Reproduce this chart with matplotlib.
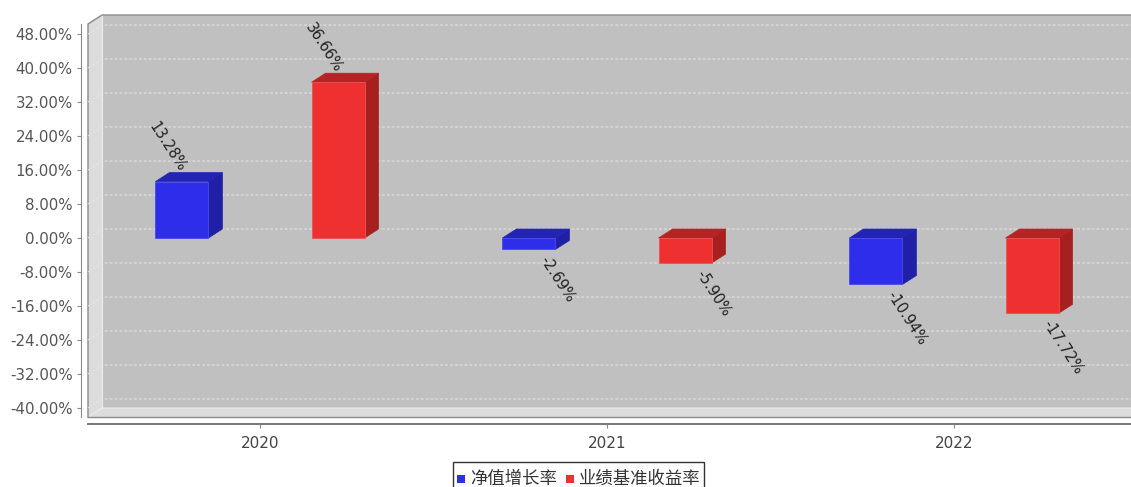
import matplotlib
matplotlib.use("Agg")
import matplotlib.pyplot as plt
from matplotlib.patches import Polygon, Rectangle
from matplotlib.ticker import FuncFormatter

# ---- data ----
categories = ["2020", "2021", "2022"]
series_names = ["净值增长率", "业绩基准收益率"]
nav_growth = [13.28, -2.69, -10.94]
benchmark = [36.66, -5.90, -17.72]
y_ticks = [-40, -32, -24, -16, -8, 0, 8, 16, 24, 32, 40, 48]

plt.rcParams['font.family'] = ['DejaVu Sans', 'Noto Sans CJK SC']

W, H = 1131, 487
fig = plt.figure(figsize=(W / 100, H / 100), dpi=100)
fig.patch.set_facecolor('white')

# front plane of the 3D plot area (pixel geometry -> figure fractions)
left_px, right_px, top_px, bot_px = 88, 1131, 24, 417
ax = fig.add_axes([left_px / W, (H - bot_px) / H,
                   (right_px - left_px) / W, (bot_px - top_px) / H])
sx, sy = 347.0, 4.25          # px per category / per percent
zero_px, cat0_px = 238.0, 260.0
xmin = (left_px - cat0_px) / sx
xmax = (right_px - cat0_px) / sx
ymin = (zero_px - bot_px) / sy
ymax = (zero_px - top_px) / sy
ax.set_xlim(xmin, xmax)
ax.set_ylim(ymin, ymax)
ax.set_facecolor('none')

dx, dy = 14 / sx, 9 / sy      # depth offset in data units
xr = xmax + 0.2               # walls extend past the right edge

wall_c = '#c0c0c0'
side_c = '#dcdcdc'
# back wall
ax.add_patch(Polygon([(xmin + dx, ymin + dy), (xr, ymin + dy), (xr, ymax + dy),
                      (xmin + dx, ymax + dy)], closed=True, facecolor=wall_c,
                     edgecolor='none', zorder=0, clip_on=False))
# left wall
ax.add_patch(Polygon([(xmin, ymin), (xmin + dx, ymin + dy), (xmin + dx, ymax + dy),
                      (xmin, ymax)], closed=True, facecolor=side_c,
                     edgecolor='none', zorder=0, clip_on=False))
# floor
ax.add_patch(Polygon([(xmin, ymin), (xr, ymin), (xr, ymin + dy), (xmin + dx, ymin + dy)],
                     closed=True, facecolor=side_c, edgecolor='none', zorder=0,
                     clip_on=False))
# inner edges (light)
ax.plot([xmin + dx, xmin + dx], [ymin + dy, ymax + dy], color='#ececec', lw=0.8,
        zorder=1, clip_on=False)
ax.plot([xmin, xmin + dx, xr], [ymin, ymin + dy, ymin + dy], color='#ececec', lw=0.8,
        zorder=1, clip_on=False)
# outer outline
ax.plot([xmin, xmin, xmin + dx, xr], [ymin, ymax, ymax + dy, ymax + dy],
        color='#8a8a8a', lw=1.0, zorder=1, clip_on=False)
ax.plot([xmin, xr], [ymin, ymin], color='#8a8a8a', lw=1.0, zorder=1, clip_on=False)

# gridlines on left wall + back wall
for v in y_ticks:
    ax.plot([xmin, xmin + dx, xr], [v, v + dy, v + dy], color='#e6e6e6', lw=0.7,
            ls=(0, (3, 2)), zorder=1, clip_on=False)

# bars
offsets = [-0.225, 0.225]
bw = 53 / sx
colors = [
    dict(front='#2e2eea', top='#2424b4', side='#2020a6', edge='#4848f0'),
    dict(front='#ee3030', top='#b42424', side='#a62020', edge='#f05050'),
]
for s, vals in enumerate([nav_growth, benchmark]):
    c = colors[s]
    for i, v in enumerate(vals):
        x0 = i + offsets[s] - bw / 2
        x1 = x0 + bw
        t = max(v, 0)
        # side face
        ax.add_patch(Polygon([(x1, 0), (x1, v), (x1 + dx, v + dy), (x1 + dx, dy)],
                             closed=True, facecolor=c['side'], edgecolor=c['side'],
                             lw=0.5, zorder=3))
        # top face
        ax.add_patch(Polygon([(x0, t), (x1, t), (x1 + dx, t + dy), (x0 + dx, t + dy)],
                             closed=True, facecolor=c['top'], edgecolor=c['top'],
                             lw=0.5, zorder=3))
        # front face
        ax.add_patch(Rectangle((x0, min(0, v)), bw, abs(v), facecolor=c['front'],
                               edgecolor=c['edge'], lw=0.6, zorder=4))
        # value label
        xc = i + offsets[s]
        if v >= 0:
            ax.annotate(f"{v:.2f}%", xy=(xc, v), xytext=(1, 11),
                        textcoords='offset pixels', rotation=-57,
                        rotation_mode='anchor', ha='right', va='center',
                        fontsize=10.5, color='#222222', zorder=6)
        else:
            ax.annotate(f"{v:.2f}%", xy=(xc, v), xytext=(14, -8),
                        textcoords='offset pixels', rotation=-57,
                        rotation_mode='anchor', ha='left', va='center',
                        fontsize=10.5, color='#222222', zorder=6)

# axes / ticks
for sp in ['top', 'right']:
    ax.spines[sp].set_visible(False)
ax.spines['left'].set_position(('outward', 5))
ax.spines['left'].set_color('#8a8a8a')
ax.spines['bottom'].set_position(('outward', 5))
ax.spines['bottom'].set_color('#777777')
ax.spines['bottom'].set_linewidth(1.4)
ax.set_yticks(y_ticks)
ax.yaxis.set_major_formatter(FuncFormatter(lambda v, p: f"{v:.2f}%"))
ax.tick_params(axis='y', direction='out', length=3, width=0.8, color='#8a8a8a',
               labelcolor='#555555', labelsize=10.8, pad=3)
ax.set_xticks(range(len(categories)))
ax.set_xticklabels(categories)
ax.tick_params(axis='x', direction='out', length=3, width=0.8, color='#8a8a8a',
               labelcolor='#444444', labelsize=11, pad=6)

# legend (manual, partly cut at the bottom like the reference)
fig.patches.append(Rectangle((453 / W, 1 - 495 / H), (704 - 453) / W, (495 - 462) / H,
                             transform=fig.transFigure, facecolor='white',
                             edgecolor='#333333', lw=1.0, figure=fig))
leg_cols = [colors[0]['front'], colors[1]['front']]
sq_x = [457, 566]
for k, name in enumerate(series_names):
    fig.patches.append(Rectangle((sq_x[k] / W, 1 - 483 / H), 8 / W, 8 / H,
                                 transform=fig.transFigure, facecolor=leg_cols[k],
                                 edgecolor='none', figure=fig))
    fig.text((sq_x[k] + 13) / W, 1 - 479 / H, name, ha='left', va='center',
             fontsize=12.5, color='#333333', family=['Noto Sans CJK SC', 'DejaVu Sans'])

fig.savefig('out.png', dpi=100)
